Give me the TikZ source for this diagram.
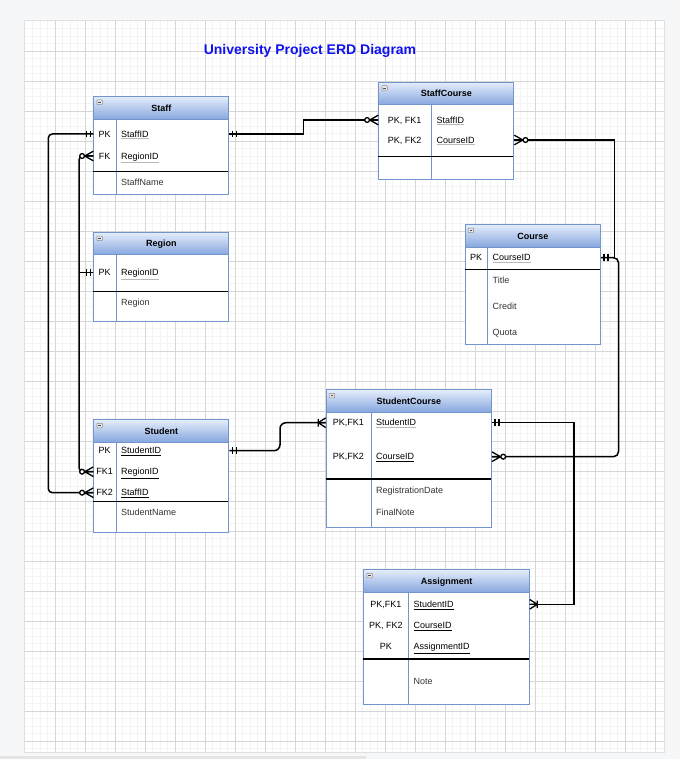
\documentclass[tikz,border=0pt]{standalone}
\usepackage{fontspec}
\setmainfont{Liberation Sans}

\definecolor{pagebg}{RGB}{246,247,249}
\definecolor{gridmajor}{RGB}{214,214,214}
\definecolor{gridminor}{RGB}{244,244,244}
\definecolor{tblborder}{RGB}{116,148,204}
\definecolor{headtop}{RGB}{228,237,251}
\definecolor{headbot}{RGB}{134,166,222}
\definecolor{titleblue}{RGB}{16,16,240}

% gray or black underline for key fields
\newcommand\gul[1]{{\color{black!28}\underline{\color{black}#1}}}

\begin{document}
\begin{tikzpicture}[
    x=1pt, y=-1pt,
    tbl/.style={rectangle, anchor=north west, draw=tblborder, fill=white, line width=1pt, inner sep=0pt},
    tblhead/.style={rectangle, anchor=north west, draw=tblborder, line width=1pt, top color=headtop, bottom color=headbot, inner sep=0pt, text height=6.4pt, text depth=0pt, font=\fontsize{9}{11}\selectfont\bfseries},
    keytxt/.style={inner sep=0pt, text height=6.4pt, text depth=0pt, font=\fontsize{9}{11}\selectfont},
    fieldtxt/.style={anchor=west, inner sep=0pt, text height=6.4pt, text depth=0pt, font=\fontsize{9}{11}\selectfont},
    plaintxt/.style={fieldtxt, text=black!80},
    divline/.style={draw=tblborder, line width=1pt},
    sepline/.style={draw=black, line width=1.2pt},
    rel/.style={draw=black, line width=1.5pt},
    collapse/.pic={
        \draw[black!45, fill=black!10, rounded corners=0.6pt, line width=0.5pt] (0,0) rectangle (5.5,4.5);
        \draw[black!70, line width=0.6pt] (1.5,2.25) -- (4,2.25);
    },
    mone/.pic={\draw[line width=1.4pt] (3,-3.4) -- (3,3.4) (7,-3.4) -- (7,3.4);},
    zmany/.pic={
        \draw[line width=1.3pt] (0,-4.8) -- (8.5,0) -- (0,4.8) (0,0) -- (8.5,0);
        \draw[line width=1.3pt, fill=white] (11.2,0) circle (2.4pt);
    },
    omany/.pic={\draw[line width=1.3pt] (0,-4.8) -- (7.5,0) -- (0,4.8) (0,0) -- (7.5,0) (7.5,-3.8) -- (7.5,3.8);}
]
    \useasboundingbox (0,0) rectangle (680,759);

    % page and grid
    \fill[pagebg] (0,0) rectangle (680,759);
    \fill[black!12] (24,20) rectangle (665,753);
    \fill[white] (25,21) rectangle (664,752);
    \foreach \x in {32.5,40,...,660} \draw[gridminor, line width=0.8pt] (\x,21) -- (\x,752);
    \foreach \y in {28.5,36,...,750} \draw[gridminor, line width=0.8pt] (25,\y) -- (664,\y);
    \foreach \x in {55,85,...,655} \draw[gridmajor, line width=0.8pt] (\x,21) -- (\x,752);
    \foreach \y in {51,81,...,741} \draw[gridmajor, line width=0.8pt] (25,\y) -- (664,\y);
    \fill[black!10] (0,756) rectangle (366,759);

    \node[font=\fontsize{14}{16}\selectfont\bfseries, text=titleblue] (title) at (310,51) {University Project ERD Diagram};

    % Staff
    \node[tbl, minimum width=135pt, minimum height=98.3pt] (staff) at (93.3,96) {};
    \node[tblhead, minimum width=135pt, minimum height=23.3pt] (staff-h) at (staff.north west) {Staff};
    \pic at (96.8,100) {collapse};
    \draw[divline] (116,119.3) -- (116,194.3);
    \draw[sepline] (93.3,171.3) -- (228.3,171.3);
    \node[keytxt] (staff-k1) at (104.7,134) {PK};
    \node[fieldtxt] (staff-sid) at (121,134) {\gul{StaffID}};
    \node[keytxt] (staff-k2) at (104.7,156) {FK};
    \node[fieldtxt] (staff-rid) at (121,156) {\gul{RegionID}};
    \node[plaintxt] (staff-name) at (121,182.7) {StaffName};

    % Region
    \node[tbl, minimum width=135pt, minimum height=89.3pt] (region) at (93.3,232) {};
    \node[tblhead, minimum width=135pt, minimum height=22.3pt] (region-h) at (region.north west) {Region};
    \pic at (96.8,236) {collapse};
    \draw[divline] (116,254.3) -- (116,321.3);
    \draw[sepline] (93.3,291.7) -- (228.3,291.7);
    \node[keytxt] (region-k1) at (104.7,272.7) {PK};
    \node[fieldtxt] (region-rid) at (121,272.7) {\gul{RegionID}};
    \node[plaintxt] (region-name) at (121,302.7) {Region};

    % Student
    \node[tbl, minimum width=135pt, minimum height=112.4pt] (student) at (93.3,419.3) {};
    \node[tblhead, minimum width=135pt, minimum height=22.4pt] (student-h) at (student.north west) {Student};
    \pic at (96.8,423.3) {collapse};
    \draw[divline] (116,441.7) -- (116,531.7);
    \draw[sepline] (93.3,501.7) -- (228.3,501.7);
    \node[keytxt] (student-k1) at (104.7,450.7) {PK};
    \node[fieldtxt] (student-id) at (121,450.7) {\underline{StudentID}};
    \node[keytxt] (student-k2) at (104.7,471.7) {FK1};
    \node[fieldtxt] (student-rid) at (121,471.7) {\underline{RegionID}};
    \node[keytxt] (student-k3) at (104.7,492.7) {FK2};
    \node[fieldtxt] (student-sid) at (121,492.7) {\underline{StaffID}};
    \node[plaintxt] (student-name) at (121,512.7) {StudentName};

    % StaffCourse
    \node[tbl, minimum width=135pt, minimum height=97.3pt] (stcourse) at (378.3,81.7) {};
    \node[tblhead, minimum width=135pt, minimum height=22.6pt] (stcourse-h) at (stcourse.north west) {StaffCourse};
    \pic at (381.8,85.7) {collapse};
    \draw[divline] (431,104.3) -- (431,179);
    \draw[sepline] (378.3,156.7) -- (513.3,156.7);
    \node[keytxt] (stcourse-k1) at (404.7,120) {PK, FK1};
    \node[fieldtxt] (stcourse-sid) at (436.5,120) {\gul{StaffID}};
    \node[keytxt] (stcourse-k2) at (404.7,140) {PK, FK2};
    \node[fieldtxt] (stcourse-cid) at (436.5,140) {\gul{CourseID}};

    % Course
    \node[tbl, minimum width=135.3pt, minimum height=120.3pt] (course) at (464.7,224) {};
    \node[tblhead, minimum width=135.3pt, minimum height=22.7pt] (course-h) at (course.north west) {Course};
    \pic at (468.2,228) {collapse};
    \draw[divline] (487.3,246.7) -- (487.3,344.3);
    \draw[sepline] (464.7,269.3) -- (600,269.3);
    \node[keytxt] (course-k1) at (476,257.7) {PK};
    \node[fieldtxt] (course-cid) at (492.5,257.7) {\gul{CourseID}};
    \foreach \f/\y in {Title/280.7, Credit/306.7, Quota/332.7} {
        \node[plaintxt] (course-\f) at (492.5,\y) {\f};
    }

    % StudentCourse
    \node[tbl, minimum width=165.3pt, minimum height=138pt] (stucourse) at (325.7,389.3) {};
    \node[tblhead, minimum width=165.3pt, minimum height=22.4pt] (stucourse-h) at (stucourse.north west) {StudentCourse};
    \pic at (329.2,393.3) {collapse};
    \draw[divline] (371,411.7) -- (371,527.3);
    \draw[sepline] (325.7,479) -- (491,479);
    \node[keytxt] (stucourse-k1) at (348.3,422.7) {PK,FK1};
    \node[fieldtxt] (stucourse-sid) at (376,422.7) {\gul{StudentID}};
    \node[keytxt] (stucourse-k2) at (348.3,456.7) {PK,FK2};
    \node[fieldtxt] (stucourse-cid) at (376,456.7) {\underline{CourseID}};
    \node[plaintxt] (stucourse-date) at (376,490.7) {RegistrationDate};
    \node[plaintxt] (stucourse-note) at (376,512.7) {FinalNote};

    % Assignment
    \node[tbl, minimum width=165.4pt, minimum height=134.7pt] (assign) at (363.3,569.3) {};
    \node[tblhead, minimum width=165.4pt, minimum height=22.7pt] (assign-h) at (assign.north west) {Assignment};
    \pic at (366.8,573.3) {collapse};
    \draw[divline] (408.3,592) -- (408.3,704);
    \draw[sepline] (363.3,659) -- (528.7,659);
    \node[keytxt] (assign-k1) at (385.8,604.3) {PK,FK1};
    \node[fieldtxt] (assign-sid) at (413.5,604.3) {\underline{StudentID}};
    \node[keytxt] (assign-k2) at (385.8,625.7) {PK, FK2};
    \node[fieldtxt] (assign-cid) at (413.5,625.7) {\underline{CourseID}};
    \node[keytxt] (assign-k3) at (385.8,646.7) {PK};
    \node[fieldtxt] (assign-aid) at (413.5,646.7) {\underline{AssignmentID}};
    \node[plaintxt] (assign-note) at (413.5,681.7) {Note};

    % Relationships
    \draw[rel] (staff.east |- staff-sid) -| (303.3,120) -- (stcourse.west |- stcourse-sid);
    \draw[rel, rounded corners=4pt] (staff.west |- staff-rid) -| (79,471.7) -- (student.west |- student-rid);
    \draw[rel] (region.west |- region-rid) -- (79,272.7);
    \draw[rel, rounded corners=4pt] (staff.west |- staff-sid) -| (48.3,492.7) -- (student.west |- student-sid);
    \draw[rel, rounded corners=6pt] (student.east |- student-id) -| (280,422.7) -- (stucourse.west |- stucourse-sid);
    \draw[rel] (stcourse.east |- stcourse-cid) -| (614.5,257.7) -- (course.east |- course-cid);
    \draw[rel, rounded corners=5pt] (course.east |- course-cid) -| (618.5,456.7) -- (stucourse.east |- stucourse-cid);
    \draw[rel] (stucourse.east |- stucourse-sid) -| (574,604.3) -- (assign.east |- assign-sid);

    % Cardinality marks
    \pic at (staff.east |- staff-sid) {mone};
    \pic[xscale=-1] at (stcourse.west |- stcourse-sid) {zmany};
    \pic[xscale=-1] at (staff.west |- staff-rid) {zmany};
    \pic[xscale=-1] at (region.west |- region-rid) {mone};
    \pic[xscale=-1] at (student.west |- student-rid) {zmany};
    \pic[xscale=-1] at (staff.west |- staff-sid) {mone};
    \pic[xscale=-1] at (student.west |- student-sid) {zmany};
    \pic at (student.east |- student-id) {mone};
    \pic[xscale=-1] at (stucourse.west |- stucourse-sid) {omany};
    \pic at (stcourse.east |- stcourse-cid) {zmany};
    \pic at (course.east |- course-cid) {mone};
    \pic at (stucourse.east |- stucourse-cid) {zmany};
    \pic at (stucourse.east |- stucourse-sid) {mone};
    \pic at (assign.east |- assign-sid) {omany};
\end{tikzpicture}
\end{document}
